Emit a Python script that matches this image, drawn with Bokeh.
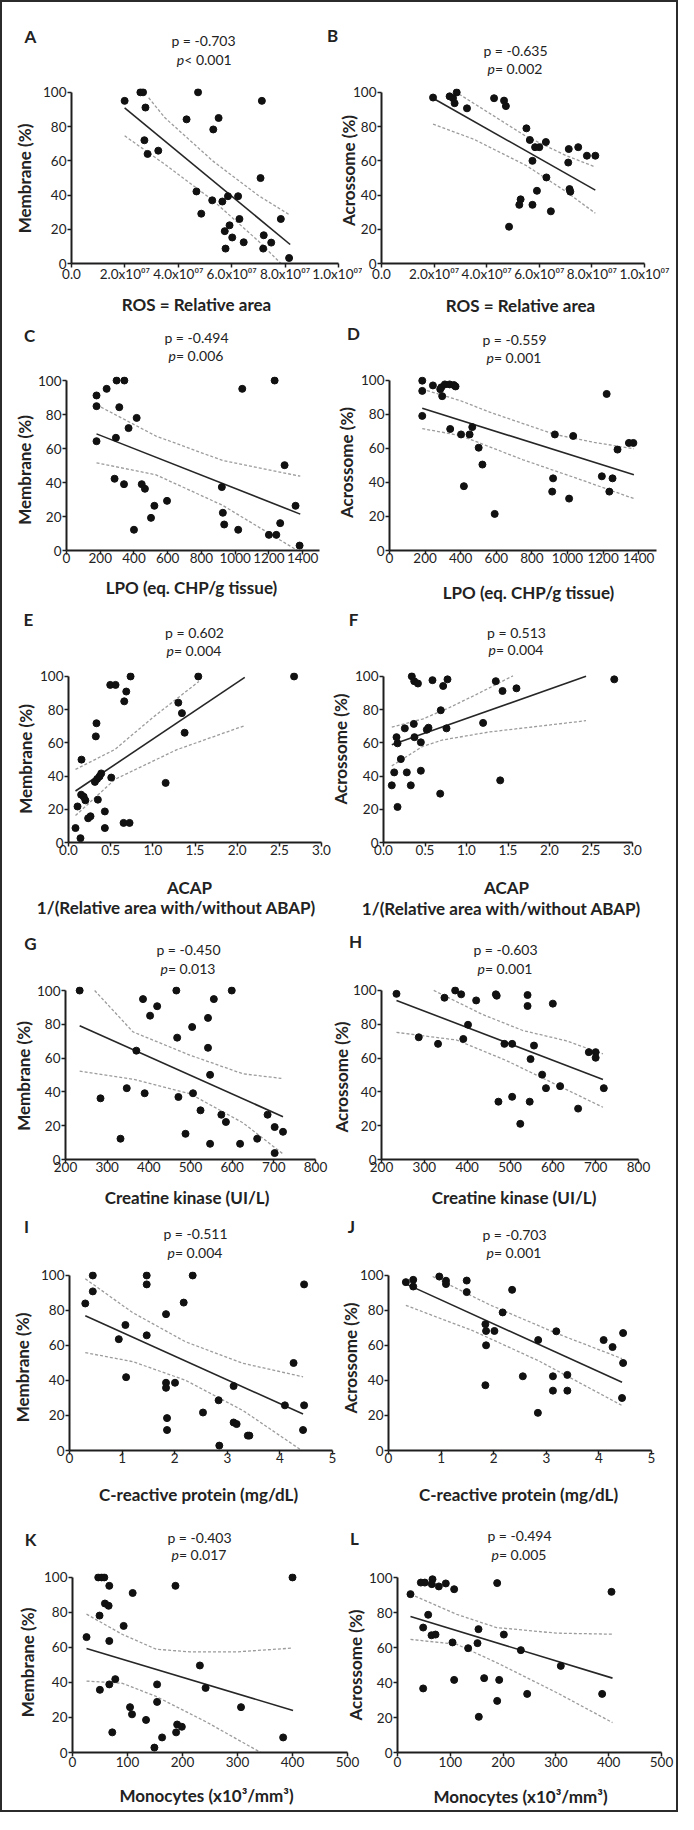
import math
from bokeh.plotting import figure
from bokeh.models import Range1d, FixedTicker
from bokeh.layouts import row, column
from bokeh.embed import file_html
from bokeh.resources import INLINE
from bokeh.core.properties import value

# ======================= DATA =======================
# Panel A : ROS (relative area, x1e7) vs Membrane (%)
a_x = [1.99, 2.58, 2.68, 2.77, 2.73, 2.85, 3.25, 4.31, 4.74, 4.68, 4.86, 5.27, 5.31, 5.51, 5.65,
       5.86, 6.24, 5.92, 5.74, 6.02, 5.77, 6.29, 6.45, 7.13, 7.08, 7.20, 7.18, 7.48, 7.84, 8.15]
a_y = [95, 100, 100, 91.1, 72, 64, 65.9, 84.2, 100, 42.1, 29.1, 36.9, 78.3, 85, 36.2,
       39.3, 39.3, 22.3, 18.9, 15.2, 8.7, 26, 12.4, 95, 49.9, 16.5, 8.7, 12.2, 26, 3.2]
a_fit_x = [1.99, 8.19]
a_fit_y = [90.9, 11.1]
a_up_x = [2.89, 3.5, 5.3, 7.0, 8.19]
a_up_y = [96.8, 85.1, 59.8, 39.7, 28.2]
a_lo_x = [1.99, 3.5, 5.3, 7.0, 8.19]
a_lo_y = [74.6, 57.9, 36.8, 13.1, -5.4]

# Panel B : ROS (x1e7) vs Acrossome (%)
b_x = [1.96, 2.59, 2.72, 2.78, 2.86, 3.25, 4.28, 4.66, 4.73, 5.51, 5.64, 5.84, 6.00, 6.25, 5.74,
       7.12, 7.48, 7.81, 8.13, 7.10, 6.27, 5.91, 7.15, 7.18, 5.29, 5.24, 5.74, 6.44, 4.85]
b_y = [97, 97.7, 96.6, 93.7, 100, 90.7, 96.6, 95.2, 92, 79, 72.2, 68, 68, 71, 60,
       66.9, 68, 63, 63, 59, 50.3, 42.5, 43.5, 42, 37.5, 34.3, 34.3, 30.5, 21.5]
b_fit_x = [1.96, 8.13]
b_fit_y = [96.6, 42.9]
b_up_x = [2.95, 3.5, 5.5, 7.0, 8.13]
b_up_y = [99, 93.7, 74.3, 63.2, 56.4]
b_lo_x = [1.96, 3.5, 5.5, 7.0, 8.13]
b_lo_y = [81.5, 72.7, 57.3, 42.2, 29.4]

# Panel C : LPO vs Membrane (%)
c_x = [178, 178, 178, 238, 297, 343, 313, 293, 368, 416, 285, 341, 446, 465, 521,
       596, 501, 400, 921, 927, 935, 1018, 1042, 1234, 1293, 1358, 1267, 1200, 1244, 1382]
c_y = [91.2, 84.9, 64.3, 95.1, 100, 100, 84.3, 66.3, 72, 78, 42.2, 39, 39, 36.3, 26.3,
       29.2, 19.2, 12.2, 37.3, 22.2, 15.3, 12.2, 95.1, 100, 50.2, 26.3, 16.1, 9.2, 9.2, 2.9]
c_fit_x = [178, 1386]
c_fit_y = [68.6, 21.4]
c_up_x = [178, 531, 927, 1386]
c_up_y = [85.7, 67.3, 52.9, 43.7]
c_lo_x = [178, 531, 927, 1386]
c_lo_y = [51.6, 44.5, 26.5, -1]

# Panel D : LPO vs Acrossome (%)
d_x = [184, 184, 184, 244, 285, 291, 311, 338, 362, 371, 296, 341, 402, 450, 465, 501,
       522, 418, 591, 929, 1032, 919, 914, 1009, 1220, 1193, 1253, 1235, 1281, 1345, 1370]
d_y = [99.8, 93.8, 79.1, 97, 94.8, 95.9, 97.6, 97.6, 97.2, 96.4, 90.7, 71.4, 68.2, 68.2, 72.5, 60.4,
       50.5, 37.8, 21.5, 68.2, 67.3, 42.4, 34.6, 30.5, 92, 43.6, 42.4, 34.6, 59.3, 63.2, 63.2]
d_fit_x = [184, 1373]
d_fit_y = [83.6, 44.5]
d_up_x = [184, 400, 563, 929, 1150, 1373]
d_up_y = [94.8, 88, 81.3, 68.2, 63.5, 59.8]
d_lo_x = [184, 400, 750, 1050, 1373]
d_lo_y = [71.6, 67.5, 53.3, 42.5, 30.5]

# Panel E : ACAP vs Membrane (%)
e_x = [0.083, 0.107, 0.142, 0.154, 0.150, 0.180, 0.200, 0.233, 0.261, 0.332, 0.324, 0.313, 0.340, 0.368,
       0.388, 0.348, 0.431, 0.431, 0.507, 0.495, 0.558, 0.685, 0.661, 0.736, 0.653, 0.724, 1.152, 1.302,
       1.345, 1.377, 1.539, 2.675]
e_y = [8.7, 21.7, 2.6, 49.9, 28.8, 27.6, 25.4, 14.6, 15.8, 71.8, 63.9, 36.5, 38.3, 39.8,
       41.6, 25.8, 18.7, 8.7, 39.1, 94.9, 94.9, 90.9, 85, 100, 11.8, 11.8, 35.9, 84.2,
       77.9, 66.1, 100, 100]
e_fit_x = [0.083, 2.09]
e_fit_y = [31.0, 99.4]
e_up_x = [0.083, 0.55, 1.0, 1.547]
e_up_y = [44, 56, 75.3, 97]
e_lo_x = [0.083, 0.55, 1.28, 2.09]
e_lo_y = [16.2, 38, 55.8, 70.4]

# Panel F : ACAP vs Acrossome (%)
f_x = [0.100, 0.129, 0.157, 0.169, 0.169, 0.209, 0.257, 0.281, 0.341, 0.370, 0.415, 0.365, 0.373, 0.329,
       0.450, 0.450, 0.522, 0.542, 0.590, 0.690, 0.719, 0.771, 0.759, 0.683, 1.200, 1.353, 1.434, 1.602,
       1.406, 2.780]
f_y = [34.4, 42.2, 63.4, 59.7, 21.4, 50.2, 68.7, 42.2, 100, 97.1, 95.7, 71.4, 63.4, 34.4,
       60.3, 43.2, 67.9, 69.1, 97.7, 79.6, 94.2, 98.2, 68.7, 29.4, 72, 97.1, 91.2, 92.8,
       37.4, 98.2]
f_fit_x = [0.1, 2.44]
f_fit_y = [58.8, 100]
f_up_x = [0.1, 0.47, 0.79, 1.11, 1.56]
f_up_y = [69.5, 74.3, 81.1, 88.9, 100.3]
f_lo_x = [0.1, 0.47, 0.71, 1.27, 2.44]
f_lo_y = [46.1, 57.8, 61.7, 66.5, 73.3]

# Panel G : Creatine kinase vs Membrane (%)
g_x = [234, 284, 332, 347, 370, 386, 390, 403, 420, 466, 468, 471, 488, 504, 506,
       524, 542, 542, 547, 556, 547, 574, 585, 599, 619, 660, 685, 702, 722, 702]
g_y = [100, 36.2, 12.3, 42.2, 64.4, 94.9, 39.2, 85.1, 90.7, 100, 72.1, 37, 15.2, 78.4, 39.2,
       29.1, 83.8, 66.1, 50.1, 94.9, 9.3, 26.5, 22.2, 100, 9.3, 12.3, 26.5, 19.2, 16.4, 3.8]
g_fit_x = [234, 722]
g_fit_y = [79.2, 25.3]
g_up_x = [270, 362, 498, 626, 718]
g_up_y = [100, 75.5, 61.8, 50.7, 48]
g_lo_x = [234, 362, 498, 626, 722]
g_lo_y = [52.3, 47.5, 39, 21.7, 3.3]

# Panel H : Creatine kinase vs Acrossome (%)
h_x = [235, 287, 332, 347, 372, 386, 402, 391, 421, 467, 469, 473, 487, 505, 505,
       524, 541, 541, 556, 548, 546, 575, 584, 600, 617, 659, 684, 700, 700, 719]
h_y = [98, 72.3, 68.4, 95.7, 100, 97.7, 79.7, 71.3, 94.1, 97.7, 96.9, 34.2, 68.4, 68.4, 37.1,
       21.1, 97.3, 90.8, 67.4, 59.4, 34.2, 50.2, 42.2, 92.2, 43.4, 30.1, 63.5, 63.5, 60.2, 42.2]
h_fit_x = [235, 717]
h_fit_y = [94.1, 47.3]
h_up_x = [322, 435, 530, 630, 717]
h_up_y = [100, 85.9, 76.3, 70.3, 62.5]
h_lo_x = [235, 375, 491, 717]
h_lo_y = [75.2, 70.7, 58.6, 30.9]

# Panel I : C-reactive protein vs Membrane (%)
i_x = [0.30, 0.443, 0.443, 0.937, 1.063, 1.076, 1.468, 1.468, 1.468, 1.835, 1.835, 1.835, 2.006, 1.854,
       1.854, 2.171, 2.342, 2.538, 2.835, 2.848, 3.12, 3.12, 3.177, 3.39, 3.42, 4.095, 4.26, 4.46,
       4.46, 4.44]
i_y = [84, 100, 90.9, 63.6, 71.7, 41.9, 100, 94.9, 65.8, 77.9, 38.7, 35.8, 38.7, 18.5,
       11.7, 84.5, 100, 21.7, 28.7, 2.8, 36.8, 16, 15.1, 8.5, 8.5, 25.8, 50, 94.9,
       25.8, 11.7]
i_fit_x = [0.3, 4.44]
i_fit_y = [77.0, 20.8]
i_up_x = [0.3, 1.2, 2.2, 3.3, 4.44]
i_up_y = [98.1, 78.8, 62.2, 49.8, 42.1]
i_lo_x = [0.3, 1.2, 2.2, 3.3, 4.44]
i_lo_y = [55.9, 50.8, 40.2, 22.8, -0.5]

# Panel J : C-reactive protein vs Acrossome (%)
j_x = [0.33, 0.47, 0.47, 0.966, 1.093, 1.093, 1.487, 1.487, 2.35, 2.17, 1.842, 1.855, 2.014, 1.855,
       1.842, 2.554, 2.846, 2.84, 3.126, 3.126, 3.19, 3.40, 3.40, 4.09, 4.26, 4.46, 4.46, 4.44]
j_y = [96.2, 97.5, 93.7, 99.4, 97, 95.1, 97.1, 90.5, 91.8, 78.9, 72.2, 68.3, 68.3, 60.1,
       37.3, 42.4, 63.1, 21.5, 42.4, 34.2, 68.1, 43.2, 34.2, 63.1, 59.1, 67.1, 50, 30]
j_fit_x = [0.33, 4.44]
j_fit_y = [95.2, 39.0]
j_up_x = [0.839, 1.92, 3.19, 4.44]
j_up_y = [99.4, 83.3, 67, 52.5]
j_lo_x = [0.33, 1.6, 2.87, 4.44]
j_lo_y = [82.9, 68.5, 51, 25.7]

# Panel K : Monocytes vs Membrane (%)
k_x = [25.5, 46.8, 52.9, 57.8, 49.2, 66.9, 59, 65.7, 93, 109.4, 66.9, 49.8, 66.9, 77.8, 72.3, 104.6,
       108.2, 133.7, 153.8, 153.8, 148.9, 162.9, 187.2, 188.4, 190.3, 198.8, 231.6, 242, 306.4, 383, 400]
k_y = [65.9, 100, 100, 100, 78.2, 95.2, 85.1, 83.8, 72.3, 91.1, 63.7, 35.8, 38.9, 41.9, 11.5, 25.9,
       21.8, 18.6, 38.9, 28.9, 2.8, 8.6, 95.2, 11.5, 16, 14.7, 49.7, 36.9, 25.9, 8.6, 100]
k_fit_x = [25.5, 401]
k_fit_y = [59.4, 24.0]
k_up_x = [25.5, 91, 152, 213, 300, 398]
k_up_y = [79, 67.4, 59, 57.5, 57.5, 59.6]
k_lo_x = [25.5, 91, 152, 243, 340, 401]
k_lo_y = [40.8, 39.5, 32, 17.5, 0.4, -11.6]

# Panel L : Monocytes vs Acrossome (%)
l_x = [24.6, 44.2, 51.8, 66.3, 65, 78.3, 91.5, 107.3, 58.1, 48.6, 64.4, 72, 48.6, 104.2, 107.3,
       133.8, 153.4, 151.5, 164.1, 154, 188.8, 192.6, 188.8, 201.4, 233.6, 245.6, 309.3, 387.6, 405.3]
l_y = [90.5, 97.1, 97.1, 99, 96.2, 94.9, 96.6, 93.3, 78.7, 71.4, 67, 67.4, 36.6, 62.9, 41.5,
       59.6, 70.5, 62.5, 42.5, 20.4, 96.8, 41.5, 29.5, 67.4, 58.5, 33.5, 49.5, 33.5, 91.8]
l_fit_x = [24.6, 407.2]
l_fit_y = [77.7, 42.5]
l_up_x = [24.6, 111.7, 187.5, 301, 407.2]
l_up_y = [90.5, 79, 71.4, 68.2, 67.6]
l_lo_x = [24.6, 111.7, 187.5, 301, 407.2]
l_lo_y = [64.6, 61.9, 51.4, 34.3, 17.1]

# Tick labels
ros_ticks = [0, 2, 4, 6, 8, 10]
ros_tick_labels = ["0.0", "2.0x10⁰⁷", "4.0x10⁰⁷", "6.0x10⁰⁷", "8.0x10⁰⁷", "1.0x10⁰⁷"]
lpo_ticks = [0, 200, 400, 600, 800, 1000, 1200, 1400]
acap_ticks = [0, 0.5, 1.0, 1.5, 2.0, 2.5, 3.0]
acap_tick_labels = ["0.0", "0.5", "1.0", "1.5", "2.0", "2.5", "3.0"]
ck_ticks = [200, 300, 400, 500, 600, 700, 800]
crp_ticks = [0, 1, 2, 3, 4, 5]
mono_ticks = [0, 100, 200, 300, 400, 500]
pct_ticks = [0, 20, 40, 60, 80, 100]

# Statistics shown above each panel: (correlation text, p-value relation)
rho_a, pval_a = "p = -0.703", "< 0.001"
rho_b, pval_b = "p = -0.635", " = 0.002"
rho_c, pval_c = "p = -0.494", " = 0.006"
rho_d, pval_d = "p = -0.559", " = 0.001"
rho_e, pval_e = "p = 0.602", " = 0.004"
rho_f, pval_f = "p = 0.513", " = 0.004"
rho_g, pval_g = "p = -0.450", " = 0.013"
rho_h, pval_h = "p = -0.603", " = 0.001"
rho_i, pval_i = "p = -0.511", " = 0.004"
rho_j, pval_j = "p = -0.703", " = 0.001"
rho_k, pval_k = "p = -0.403", " = 0.017"
rho_l, pval_l = "p = -0.494", " = 0.005"

MEM = "Membrane (%)"
ACR = "Acrossome (%)"
ROS_T = "ROS = Relative area"
LPO_T = "LPO (eq. CHP/g tissue)"
ACAP_T1 = "ACAP"
ACAP_T2 = "1/(Relative area with/without ABAP)"
CK_T = "Creatine kinase (UI/L)"
CRP_T = "C-reactive protein (mg/dL)"
MONO_T = "Monocytes (x10³/mm³)"

# ======================= LAYOUT / STYLE =======================
FONT = "Lato"
INK = "#1e1e1e"
TXT = "#222222"
ROW_H = [315, 287, 318, 290, 305, 293]
EXTRA = [40, 0, 0, 0, 0, 0]      # spare room below a row's axes (overlapped by next row)
LW, RW, OVER = 360, 354, 40
TOTAL_W = LW + RW - OVER
TOTAL_H = sum(ROW_H)

# frame: (left, right, y-of-100, y-of-0) in px inside the figure
# yt: y-title centre (dx from frame left, dy below the 100 line)
# xt: x-title lines (text, dx from frame left, dy below the x axis)
panels = [
    dict(L="A", data=(a_x, a_y, a_fit_x, a_fit_y, a_up_x, a_up_y, a_lo_x, a_lo_y), xr=(0, 10),
         ticks=ros_ticks, tlab=ros_tick_labels, frame=(69, 336, 81, 261), mls=-2,
         yt=(MEM, -47, 95), xt=[(ROS_T, 125, 40.5)],
         letter=(-41, 47), txt=(rho_a, pval_a), tx=132, ty=(43, 24)),
    dict(L="B", data=(b_x, b_y, b_fit_x, b_fit_y, b_up_x, b_up_y, b_lo_x, b_lo_y), xr=(0, 10),
         ticks=ros_ticks, tlab=ros_tick_labels, frame=(59, 322, 90, 265), mls=-2,
         yt=(ACR, -33.5, 78), xt=[(ROS_T, 139, 37.5)],
         letter=(-49, 57), txt=(rho_b, pval_b), tx=134, ty=(42, 24)),
    dict(L="C", data=(c_x, c_y, c_fit_x, c_fit_y, c_up_x, c_up_y, c_lo_x, c_lo_y), xr=(0, 1500),
         ticks=lpo_ticks, tlab=None, frame=(64, 317, 63, 233), mls=-2,
         yt=(MEM, -42.5, 89.5), xt=[(LPO_T, 125, 37)],
         letter=(-37, 45), txt=(rho_c, pval_c), tx=130, ty=(43, 25)),
    dict(L="D", data=(d_x, d_y, d_fit_x, d_fit_y, d_up_x, d_up_y, d_lo_x, d_lo_y), xr=(0, 1500),
         ticks=lpo_ticks, tlab=None, frame=(67, 334, 55, 233), mls=-2,
         yt=(ACR, -43.5, 90), xt=[(LPO_T, 139, 42)],
         letter=(-36, 39), txt=(rho_d, pval_d), tx=125, ty=(33, 15)),
    dict(L="E", data=(e_x, e_y, e_fit_x, e_fit_y, e_up_x, e_up_y, e_lo_x, e_lo_y), xr=(0, 3),
         ticks=acap_ticks, tlab=acap_tick_labels, frame=(66, 319, 69, 238), mls=-2,
         yt=(MEM, -43.5, 85.5), xt=[(ACAP_T1, 121, 45), (ACAP_T2, 108, 64.5)],
         letter=(-40, 54), txt=(rho_e, pval_e), tx=126, ty=(41, 23)),
    dict(L="F", data=(f_x, f_y, f_fit_x, f_fit_y, f_up_x, f_up_y, f_lo_x, f_lo_y), xr=(0, 3),
         ticks=acap_ticks, tlab=acap_tick_labels, frame=(61, 310, 72, 244), mls=-2,
         yt=(ACR, -43, 72.5), xt=[(ACAP_T1, 123, 39), (ACAP_T2, 118, 60)],
         letter=(-30, 57), txt=(rho_f, pval_f), tx=133, ty=(44, 27)),
    dict(L="G", data=(g_x, g_y, g_fit_x, g_fit_y, g_up_x, g_up_y, g_lo_x, g_lo_y), xr=(200, 800),
         ticks=ck_ticks, tlab=None, frame=(63, 313, 68, 237), mls=-2,
         yt=(MEM, -42, 85.5), xt=[(CK_T, 121.5, 37.5)],
         letter=(-35, 47), txt=(rho_g, pval_g), tx=123, ty=(41, 22)),
    dict(L="H", data=(h_x, h_y, h_fit_x, h_fit_y, h_up_x, h_up_y, h_lo_x, h_lo_y), xr=(200, 800),
         ticks=ck_ticks, tlab=None, frame=(59, 316, 66, 237), mls=-2,
         yt=(ACR, -40, 88.5), xt=[(CK_T, 132.5, 38)],
         letter=(-26, 47), txt=(rho_h, pval_h), tx=124, ty=(39, 20)),
    dict(L="I", data=(i_x, i_y, i_fit_x, i_fit_y, i_up_x, i_up_y, i_lo_x, i_lo_y), xr=(0, 5),
         ticks=crp_ticks, tlab=None, frame=(67, 330, 63, 240), mls=-2,
         yt=(MEM, -47.5, 92), xt=[(CRP_T, 129, 41.5)],
         letter=(-43, 49), txt=(rho_i, pval_i), tx=126, ty=(42, 23)),
    dict(L="J", data=(j_x, j_y, j_fit_x, j_fit_y, j_up_x, j_up_y, j_lo_x, j_lo_y), xr=(0, 5),
         ticks=crp_ticks, tlab=None, frame=(66, 329, 62, 238), mls=-2,
         yt=(ACR, -38.5, 83.5), xt=[(CRP_T, 130, 43.5)],
         letter=(-37, 48), txt=(rho_j, pval_j), tx=126, ty=(40, 22)),
    dict(L="K", data=(k_x, k_y, k_fit_x, k_fit_y, k_up_x, k_up_y, k_lo_x, k_lo_y), xr=(0, 500),
         ticks=mono_ticks, tlab=None, frame=(70, 345, 57, 236), mls=0,
         yt=(MEM, -45.5, 88), xt=[(MONO_T, 134, 42)],
         letter=(-42, 35), txt=(rho_k, pval_k), tx=127, ty=(37, 20)),
    dict(L="L", data=(l_x, l_y, l_fit_x, l_fit_y, l_up_x, l_up_y, l_lo_x, l_lo_y), xr=(0, 500),
         ticks=mono_ticks, tlab=None, frame=(75, 339, 60, 235), mls=0,
         yt=(ACR, -42, 87.5), xt=[(MONO_T, 123, 44)],
         letter=(-43, 39), txt=(rho_l, pval_l), tx=122, ty=(42, 23)),
]


def text_w(s, size):
    w = 0.0
    for ch in s:
        if ch.isdigit() or ch in "=<":
            w += 0.58
        elif ch == " ":
            w += 0.193
        elif ch == ".":
            w += 0.23
        elif ch == "-":
            w += 0.35
        else:
            w += 0.56
    return w * size


def make_panel(spec, H, right):
    W = RW if right else LW
    fl, fr, t100, b0 = spec["frame"]
    ytop = 100 + 4 * 100.0 / (b0 - t100)
    kw = {}
    if right:
        kw["margin"] = (0, 0, 0, -OVER)
    p = figure(width=W, height=H, x_range=Range1d(*spec["xr"]), y_range=Range1d(0, ytop),
               output_backend="svg", toolbar_location=None, tools="",
               min_border_left=fl, min_border_right=W - fr,
               min_border_top=t100 - 4, min_border_bottom=H - b0, **kw)
    p.background_fill_alpha = 0
    p.border_fill_alpha = 0
    p.outline_line_color = None
    p.grid.visible = False

    xs, ys, fx, fy, ux, uy, lx, ly = spec["data"]
    p.line(ux, uy, line_color="#9c9c9c", line_width=1.3, line_dash="3 2")
    p.line(lx, ly, line_color="#9c9c9c", line_width=1.3, line_dash="3 2")
    p.line(fx, fy, line_color="#262626", line_width=1.6)
    p.scatter(xs, ys, size=7, fill_color="#111111", line_color="#111111")

    xa, ya = p.xaxis[0], p.yaxis[0]
    xa.ticker = FixedTicker(ticks=spec["ticks"])
    if spec["tlab"]:
        xa.major_label_overrides = {t: s for t, s in zip(spec["ticks"], spec["tlab"])}
    ya.ticker = FixedTicker(ticks=pct_ticks)
    ya.bounds = (0, 100)
    for ax in (xa, ya):
        ax.axis_line_width = 2
        ax.axis_line_color = INK
        ax.major_tick_line_color = INK
        ax.major_tick_line_width = 1.5
        ax.major_tick_in = 0
        ax.major_tick_out = 4
        ax.minor_tick_line_color = None
        ax.major_label_text_font = FONT
        ax.major_label_text_font_size = "13.5px"
        ax.major_label_text_color = TXT
    xa.major_label_standoff = spec["mls"]
    ya.major_label_standoff = 1
    return p


# ---- texts positioned in page pixels on a transparent overlay (y measured downward) ----
T = {k: ([], [], []) for k in ("letter", "rho", "ip", "pv", "xt", "yt")}


def put(kind, x, y, s):
    T[kind][0].append(x)
    T[kind][1].append(TOTAL_H - y)
    T[kind][2].append(s)


rows = []
oy = 0
for r in range(6):
    H = ROW_H[r]
    figs = []
    for c in range(2):
        spec = panels[2 * r + c]
        figs.append(make_panel(spec, H + EXTRA[r], c == 1))
        ox = 0 if c == 0 else LW - OVER
        fl, fr, t100, b0 = spec["frame"]
        ldx, ldy = spec["letter"]
        put("letter", ox + fl + ldx, oy + t100 - ldy, spec["L"])
        rho, pv = spec["txt"]
        dy1, dy2 = spec["ty"]
        cx = ox + fl + spec["tx"]
        put("rho", cx, oy + t100 - dy1, rho)
        wp = 0.57 * 14
        total = wp + text_w(pv, 14)
        anchor = cx - total / 2 + wp
        put("ip", anchor, oy + t100 - dy2, "p")
        put("pv", anchor, oy + t100 - dy2, pv)
        ytxt, ydx, ydy = spec["yt"]
        put("yt", ox + fl + ydx, oy + t100 + ydy, ytxt)
        for xtxt, xdx, xdy in spec["xt"]:
            put("xt", ox + fl + xdx, oy + b0 + xdy, xtxt)
    rkw = {}
    if r > 0 and EXTRA[r - 1]:
        rkw["margin"] = (-EXTRA[r - 1], 0, 0, 0)
    rows.append(row(*figs, **rkw))
    oy += H

grid = column(*rows)

ov = figure(width=TOTAL_W, height=TOTAL_H, x_range=Range1d(0, TOTAL_W), y_range=Range1d(0, TOTAL_H),
            output_backend="svg", toolbar_location=None, tools="",
            x_axis_location=None, y_axis_location=None,
            min_border_left=0, min_border_right=0, min_border_top=0, min_border_bottom=0,
            margin=(-TOTAL_H, 0, 0, 0))
ov.background_fill_alpha = 0
ov.border_fill_alpha = 0
ov.outline_line_color = None
ov.grid.visible = False

xs_, ys_, ts_ = T["letter"]
ov.text(xs_, ys_, text=ts_, text_font=value(FONT), text_font_style="bold",
        text_font_size="17px", text_color=TXT, text_align="center", text_baseline="middle")
xs_, ys_, ts_ = T["rho"]
ov.text(xs_, ys_, text=ts_, text_font=value(FONT), text_font_size="14px",
        text_color=TXT, text_align="center", text_baseline="middle")
xs_, ys_, ts_ = T["ip"]
ov.text(xs_, ys_, text=ts_, text_font=value(FONT), text_font_style="italic",
        text_font_size="14px", text_color=TXT, text_align="right", text_baseline="middle")
xs_, ys_, ts_ = T["pv"]
ov.text(xs_, ys_, text=ts_, text_font=value(FONT), text_font_size="14px",
        text_color=TXT, text_align="left", text_baseline="middle")
xs_, ys_, ts_ = T["xt"]
ov.text(xs_, ys_, text=ts_, text_font=value(FONT), text_font_style="bold",
        text_font_size="17px", text_color=TXT, text_align="center", text_baseline="middle")
xs_, ys_, ts_ = T["yt"]
ov.text(xs_, ys_, text=ts_, text_font=value(FONT), text_font_style="bold", angle=math.pi / 2,
        text_font_size="17px", text_color=TXT, text_align="center", text_baseline="middle")

page = column(grid, ov, styles={"border": "2px solid #2b2b2b"})

open("out.html", "w").write(file_html(page, INLINE))
